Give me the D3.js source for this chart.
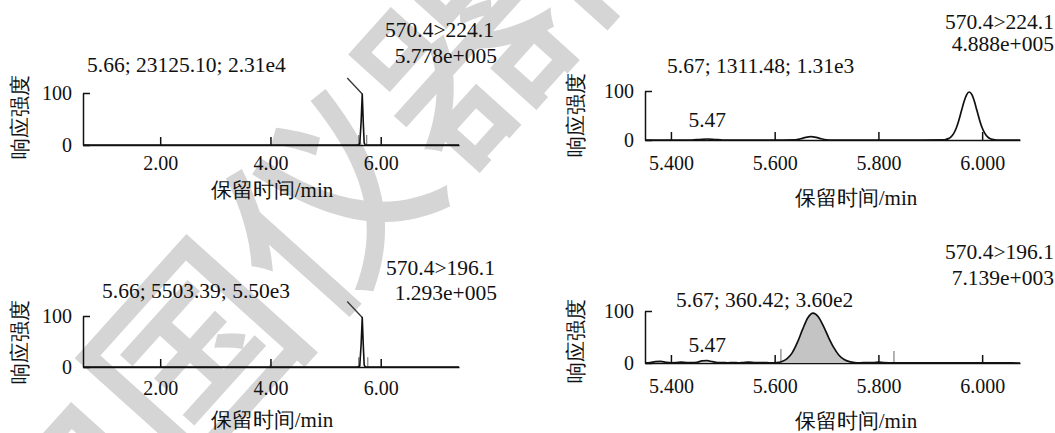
<!DOCTYPE html>
<html>
<head>
<meta charset="utf-8">
<script src="https://cdn.jsdelivr.net/npm/d3@7"></script>
<style>
  html, body { margin: 0; padding: 0; background: #fff; }
  svg { display: block; }
  text { font-family: 'Liberation Serif', 'Times New Roman', Tinos, 'DejaVu Serif', serif; fill: #111; }
</style>
</head>
<body>
<div id="chart"></div>
<script>
const WIDTH = 1055;
const HEIGHT = 433;

// tick values
const ticksFullRun = [2, 4, 6];
const ticksZoomed = [5.4, 5.6, 5.8, 6.0];
const ticksResp = [0, 100];

// texts
const yTitle = '响应强度';
const xTitle = '保留时间/min';
const watermark = '中国仪器网';

// panel 1: 570.4>224.1, full run
const p1Time = [0.60, 5.58, 5.62, 5.645, 5.665, 5.685, 5.70, 5.72, 7.42];
const p1Resp = [0, 0, 2, 45, 98, 40, 4, 0, 0];
const p1Marks = [5.60, 5.745];
const p1MarkResp = [19, 19];
const p1Peak = '5.66; 23125.10; 2.31e4';
const p1Mrm = '570.4>224.1';
const p1Max = '5.778e+005';

// panel 2: 570.4>224.1, zoomed
const p2Time = [5.350, 5.380, 5.410, 5.440, 5.455, 5.470, 5.485, 5.500, 5.550, 5.600, 5.640, 5.650, 5.660,
  5.670, 5.680, 5.690, 5.700, 5.710, 5.760, 5.820, 5.880, 5.925, 5.930, 5.935, 5.940, 5.945, 5.950,
  5.955, 5.960, 5.965, 5.970, 5.975, 5.980, 5.985, 5.990, 5.995, 6.000, 6.005, 6.010, 6.015, 6.020,
  6.025, 6.030, 6.073];
const p2Resp = [0, 0, 0, 0, 1, 2, 1, 0, 0, 0, 0.3, 2.5, 5.5,
  7, 5.5, 2.5, 0.5, 0, 0, 0, 0, 0.3, 1.1, 2.8, 6.5, 13, 24,
  40, 59, 78, 92, 98, 93, 79, 60, 41, 25, 14, 7, 3, 1.2,
  0.4, 0, 0];
const p2Peak = '5.67; 1311.48; 1.31e3';
const p2Mrm = '570.4>224.1';
const p2Max = '4.888e+005';
const p2Small = 5.47;

// panel 3: 570.4>196.1, full run
const p3Time = [0.60, 5.58, 5.62, 5.645, 5.665, 5.685, 5.70, 5.72, 7.42];
const p3Resp = [0, 0, 2, 45, 97, 40, 4, 0, 0];
const p3Marks = [5.60, 5.765];
const p3MarkResp = [19, 19];
const p3Peak = '5.66; 5503.39; 5.50e3';
const p3Mrm = '570.4>196.1';
const p3Max = '1.293e+005';

// panel 4: 570.4>196.1, zoomed
const p4Time = [5.350, 5.360, 5.370, 5.380, 5.390, 5.400, 5.410, 5.420, 5.430, 5.440, 5.450, 5.460,
  5.470, 5.480, 5.490, 5.500, 5.510, 5.520, 5.530, 5.540, 5.550, 5.560, 5.570, 5.580, 5.590,
  5.604, 5.614, 5.624, 5.634, 5.644, 5.654, 5.664, 5.674, 5.684, 5.694, 5.704, 5.714, 5.724,
  5.734, 5.744, 5.754, 5.764, 5.780, 5.790, 5.800, 5.810, 5.820, 5.840, 5.860, 5.880, 5.920,
  5.960, 6.000, 6.040, 6.073];
const p4Resp = [0.5, 1, 2.5, 3, 1.5, 0.5, 0.8, 1.5, 1, 0.8, 1.5, 4,
  4.5, 2.5, 1, 0.8, 0.5, 0.8, 0.4, 1, 1.5, 1, 0.6, 0.8, 0.4,
  0.8, 2.9, 8.4, 20, 40, 65, 87, 96, 89, 71, 49, 29.5, 15,
  6.7, 2.6, 0.9, 0.5, 1, 0.6, 1.5, 0.8, 0.5, 0.5, 0.3, 0.5, 0.3,
  0.2, 0.2, 0.1, 0];
const p4Marks = [5.612, 5.830];
const p4MarkResp = [27, 23];
const p4FillFrom = 5.612;
const p4FillTo = 5.764;
const p4Peak = '5.67; 360.42; 3.60e2';
const p4Mrm = '570.4>196.1';
const p4Max = '7.139e+003';
const p4Small = 5.47;

const svg = d3.select('#chart')
  .append('svg')
  .attr('width', WIDTH)
  .attr('height', HEIGHT);

// faint watermark behind everything
svg.append('g')
  .attr('transform', 'translate(185,345) rotate(-48)')
  .append('text')
  .attr('x', -300)
  .attr('y', 0)
  .attr('dominant-baseline', 'central')
  .style('font-family', "'Noto Sans CJK SC', sans-serif")
  .style('font-weight', 500)
  .style('font-size', '200px')
  .style('fill', '#d5d5d5')
  .text(watermark);

function drawPanel(p) {
  const g = svg.append('g');

  const x = d3.scaleLinear().domain(p.domain).range([p.left, p.right]);
  const y = d3.scaleLinear().domain([0, 100]).range([p.base, p.top]);

  // x axis, ticks pointing inward
  const xAxis = g.append('g')
    .attr('transform', `translate(0,${p.base})`)
    .call(d3.axisBottom(x).tickValues(p.ticks).tickSize(-8).tickSizeOuter(0).tickFormat(d3.format(p.fmt)));
  xAxis.selectAll('text')
    .attr('y', p.labelY)
    .attr('dy', null)
    .style('font-size', '20px');

  // y axis
  const yAxis = g.append('g')
    .attr('transform', `translate(${p.left},0)`)
    .call(d3.axisLeft(y).tickValues(ticksResp).tickSize(-7).tickSizeOuter(0).tickPadding(11));
  yAxis.selectAll('text').style('font-size', '20px');

  [xAxis, yAxis].forEach((a) => {
    a.attr('font-family', null).attr('font-size', null);
    a.selectAll('path, line').attr('stroke', '#111').attr('stroke-width', 1.5);
  });

  // titles
  g.append('text')
    .attr('transform', `translate(${p.yTitle[0]},${p.yTitle[1]}) rotate(-90)`)
    .attr('text-anchor', 'middle')
    .attr('dominant-baseline', 'central')
    .style('font-size', '21px')
    .text(yTitle);

  g.append('text')
    .attr('x', p.xTitle[0])
    .attr('y', p.xTitle[1])
    .attr('text-anchor', 'middle')
    .style('font-size', '21px')
    .text(xTitle);

  const pts = p.time.map((t, i) => [t, p.resp[i]]);

  // filled integrated area
  if (p.fill) {
    g.append('path')
      .datum(pts.filter((d) => d[0] >= p.fill[0] && d[0] <= p.fill[1]))
      .attr('fill', '#c4c4c4')
      .attr('d', d3.area().curve(d3.curveMonotoneX)
        .x((d) => x(d[0])).y0(y(0)).y1((d) => y(d[1])));
  }

  // integration markers
  if (p.marks) {
    g.selectAll(null)
      .data(p.marks)
      .enter()
      .append('line')
      .attr('x1', (d) => x(d)).attr('x2', (d) => x(d))
      .attr('y1', y(0))
      .attr('y2', (d, i) => y(p.markResp[i]))
      .attr('stroke', '#8a8a8a')
      .attr('stroke-width', 1.3);
  }

  // trace
  g.append('path')
    .datum(pts)
    .attr('fill', 'none')
    .attr('stroke', '#111')
    .attr('stroke-width', p.curve === d3.curveLinear ? 1.6 : 1.7)
    .attr('stroke-linejoin', 'round')
    .attr('d', d3.line().curve(p.curve).x((d) => x(d[0])).y((d) => y(d[1])));

  // leader line from apex to peak label
  if (p.leader) {
    const apex = pts.reduce((a, b) => (b[1] > a[1] ? b : a));
    g.append('line')
      .attr('x1', x(apex[0])).attr('y1', y(apex[1]))
      .attr('x2', x(apex[0]) + p.leader[0]).attr('y2', y(apex[1]) + p.leader[1])
      .attr('stroke', '#333')
      .attr('stroke-width', 1.3);
  }

  // annotations
  g.append('text')
    .attr('x', p.peakAt[0]).attr('y', p.peakAt[1])
    .style('font-size', '21.5px')
    .text(p.peak);

  g.append('text')
    .attr('x', p.mrmAt[0]).attr('y', p.mrmAt[1])
    .attr('text-anchor', 'end')
    .style('font-size', '21.5px')
    .text(p.mrm);

  g.append('text')
    .attr('x', p.maxAt[0]).attr('y', p.maxAt[1])
    .attr('text-anchor', 'end')
    .style('font-size', '21.5px')
    .text(p.max);

  if (p.small) {
    g.append('text')
      .attr('x', x(p.small)).attr('y', p.smallY)
      .attr('text-anchor', 'middle')
      .style('font-size', '21.5px')
      .text(d3.format('.2f')(p.small));
  }
}

drawPanel({
  time: p1Time, resp: p1Resp, marks: p1Marks, markResp: p1MarkResp,
  domain: [0.6, 7.42], ticks: ticksFullRun, fmt: '.2f', curve: d3.curveLinear,
  left: 83, right: 459, top: 93, base: 145, labelY: 25,
  yTitle: [20, 117], xTitle: [272, 197],
  peak: p1Peak, peakAt: [87, 72],
  mrm: p1Mrm, max: p1Max, mrmAt: [494, 37], maxAt: [497, 63],
  leader: [-15, -16]
});

drawPanel({
  time: p2Time, resp: p2Resp,
  domain: [5.35, 6.073], ticks: ticksZoomed, fmt: '.3f', curve: d3.curveMonotoneX,
  left: 645, right: 1020, top: 91, base: 140, labelY: 30,
  yTitle: [576, 115], xTitle: [856, 205],
  peak: p2Peak, peakAt: [667, 73],
  mrm: p2Mrm, max: p2Max, mrmAt: [1054, 29], maxAt: [1054, 51],
  small: p2Small, smallY: 127
});

drawPanel({
  time: p3Time, resp: p3Resp, marks: p3Marks, markResp: p3MarkResp,
  domain: [0.6, 7.42], ticks: ticksFullRun, fmt: '.2f', curve: d3.curveLinear,
  left: 83, right: 459, top: 316, base: 367, labelY: 28,
  yTitle: [20, 342], xTitle: [272, 427],
  peak: p3Peak, peakAt: [102, 298],
  mrm: p3Mrm, max: p3Max, mrmAt: [495, 275], maxAt: [497, 300],
  leader: [-15, -16]
});

drawPanel({
  time: p4Time, resp: p4Resp, marks: p4Marks, markResp: p4MarkResp, fill: [p4FillFrom, p4FillTo],
  domain: [5.35, 6.073], ticks: ticksZoomed, fmt: '.3f', curve: d3.curveMonotoneX,
  left: 645, right: 1020, top: 311, base: 363, labelY: 30,
  yTitle: [576, 341], xTitle: [856, 428],
  peak: p4Peak, peakAt: [676, 307],
  mrm: p4Mrm, max: p4Max, mrmAt: [1054, 259], maxAt: [1054, 285],
  small: p4Small, smallY: 352
});
</script>
</body>
</html>
